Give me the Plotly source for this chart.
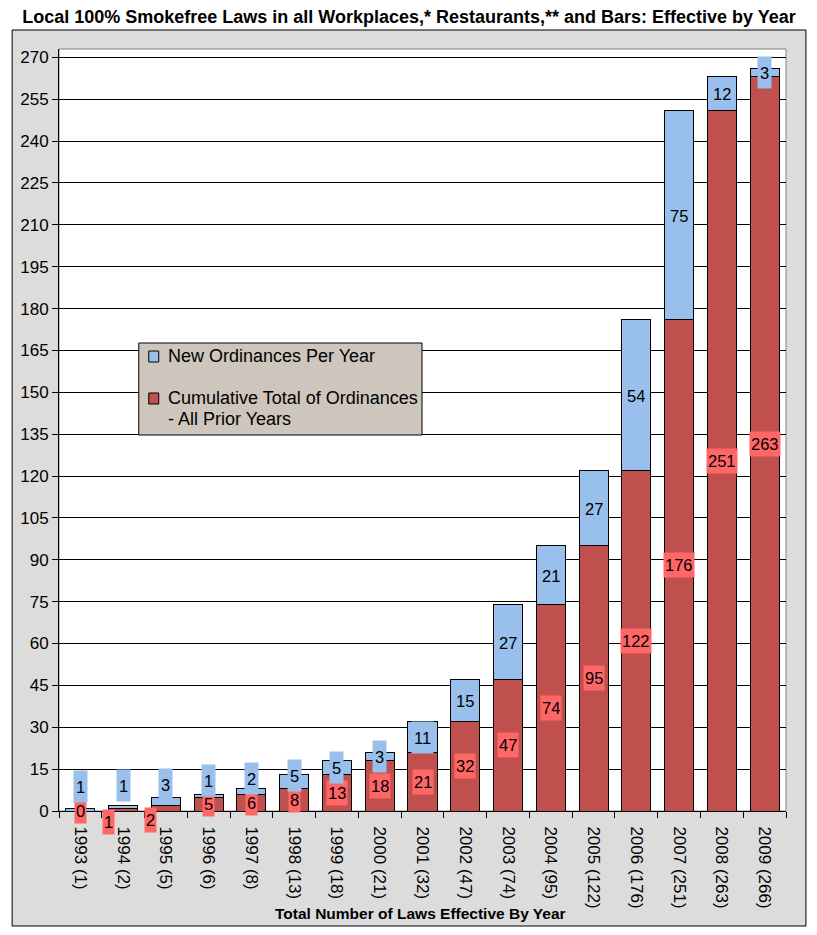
import plotly.graph_objects as go

years = ["1993 (1)", "1994 (2)", "1995 (5)", "1996 (6)", "1997 (8)", "1998 (13)",
         "1999 (18)", "2000 (21)", "2001 (32)", "2002 (47)", "2003 (74)", "2004 (95)",
         "2005 (122)", "2006 (176)", "2007 (251)", "2008 (263)", "2009 (266)"]
cumulative = [0, 1, 2, 5, 6, 8, 13, 18, 21, 32, 47, 74, 95, 122, 176, 251, 263]
new_per_year = [1, 1, 3, 1, 2, 5, 5, 3, 11, 15, 27, 21, 27, 54, 75, 12, 3]
y_ticks = list(range(0, 271, 15))
new_name = "New Ordinances Per Year"
cum_name = ["Cumulative Total of Ordinances", "- All Prior Years"]

RED = "#C0504D"
BLUE = "#99BFEC"
RED_LABEL = "#FF6666"
FONT = "Arial, Liberation Sans, sans-serif"

# the page body has an 8px margin, so the figure is drawn 8px in from the window edge
OFF = 8
W, H = 817 - 2 * OFF, 935 - 2 * OFF
ML, MT = 57 - OFF, 49 - OFF
MR = W - (786 - OFF)
MB = H - (811 - OFF)
plot_w = W - ML - MR
plot_h = H - MT - MB
y_max = 273
k = plot_h / y_max  # pixels per unit


def px_x(p):
    return (p - OFF - ML) / plot_w


def px_y(p):
    return (H - MB - (p - OFF)) / plot_h


fig = go.Figure()
fig.add_trace(go.Bar(
    x=years, y=cumulative, name=" ".join(cum_name), showlegend=False,
    marker=dict(color=RED, line=dict(color="black", width=1)),
))
fig.add_trace(go.Bar(
    x=years, y=new_per_year, name=new_name, showlegend=False,
    marker=dict(color=BLUE, line=dict(color="black", width=1)),
))

# data labels, nudged apart where the segments are too small (like Excel does)
label_font = dict(family=FONT, size=16.5, color="black")
annotations = []
for yr, c, n in zip(years, cumulative, new_per_year):
    red_c = c * k / 2
    nudge = 0 < red_c < 5
    blue_c = (c + n / 2) * k
    blue_pos = max(blue_c, red_c + 24)
    annotations.append(dict(
        x=yr, y=c / 2, text=str(c), showarrow=False,
        yshift=-12 if nudge else 0, xshift=-15 if nudge else 0,
        bgcolor=RED_LABEL, borderpad=1, height=22, font=label_font,
    ))
    annotations.append(dict(
        x=yr, y=c + n / 2, text=str(n), showarrow=False, yshift=blue_pos - blue_c,
        bgcolor=BLUE, borderpad=2, height=27, font=label_font,
    ))

annotations.append(dict(
    x=0.497, y=px_y(914), xref="paper", yref="paper",
    text="<b>Total Number of Laws Effective By Year</b>", showarrow=False,
    font=dict(family=FONT, size=15.5, color="black"), yanchor="middle",
))

# legend, drawn by hand to match the Excel box
legend_font = dict(family=FONT, size=18, color="black")
for txt, yc in [(new_name, 356), (cum_name[0], 398), (cum_name[1], 419)]:
    annotations.append(dict(
        x=px_x(164), y=px_y(yc), xref="paper", yref="paper", text=txt,
        showarrow=False, xanchor="left", yanchor="middle", font=legend_font,
    ))

shapes = [
    # grey chart area
    dict(type="rect", xref="paper", yref="paper", layer="below",
         x0=px_x(10), x1=px_x(806), y0=px_y(OFF + H - 1), y1=px_y(30),
         fillcolor="#DCDCDC", line=dict(color="black", width=1)),
    dict(type="rect", xref="paper", yref="paper", layer="below",
         x0=0, x1=1, y0=0, y1=1, fillcolor="white", line=dict(color="#808080", width=1)),
    # legend box and swatches
    dict(type="rect", xref="paper", yref="paper",
         x0=px_x(137), x1=px_x(421), y0=px_y(435), y1=px_y(343),
         fillcolor="#CEC6BC", line=dict(color="black", width=1)),
    dict(type="rect", xref="paper", yref="paper",
         x0=px_x(147), x1=px_x(157), y0=px_y(362), y1=px_y(351),
         fillcolor=BLUE, line=dict(color="black", width=1)),
    dict(type="rect", xref="paper", yref="paper",
         x0=px_x(147), x1=px_x(157), y0=px_y(404), y1=px_y(393),
         fillcolor=RED, line=dict(color="black", width=1)),
]

fig.update_layout(
    width=W, height=H,
    margin=dict(l=ML, r=MR, t=MT, b=MB),
    barmode="stack", bargap=0.32,
    paper_bgcolor="white", plot_bgcolor="rgba(0,0,0,0)",
    title=dict(text="<b>Local 100% Smokefree Laws in all Workplaces,* Restaurants,** and Bars: Effective by Year</b>",
               x=(409 - OFF) / W, xref="container", xanchor="center",
               y=1 - (17 - OFF) / H, yanchor="middle",
               font=dict(family=FONT, size=18, color="black")),
    showlegend=False,
    annotations=annotations,
    shapes=shapes,
    font=dict(family=FONT, color="black"),
)
fig.update_xaxes(
    tickangle=90, tickfont=dict(family=FONT, size=17, color="black"),
    ticks="outside", tickson="boundaries", ticklen=6, tickcolor="black",
    ticklabelstandoff=11,
    showline=True, linecolor="black", linewidth=1, showgrid=False,
)
fig.update_yaxes(
    range=[0, y_max], tickvals=y_ticks, tickfont=dict(family=FONT, size=17, color="black"),
    ticks="outside", ticklen=6, tickcolor="black",
    showline=True, linecolor="black", linewidth=1,
    showgrid=True, gridcolor="black", gridwidth=1, zeroline=False,
)

fig.write_html("out.html")
